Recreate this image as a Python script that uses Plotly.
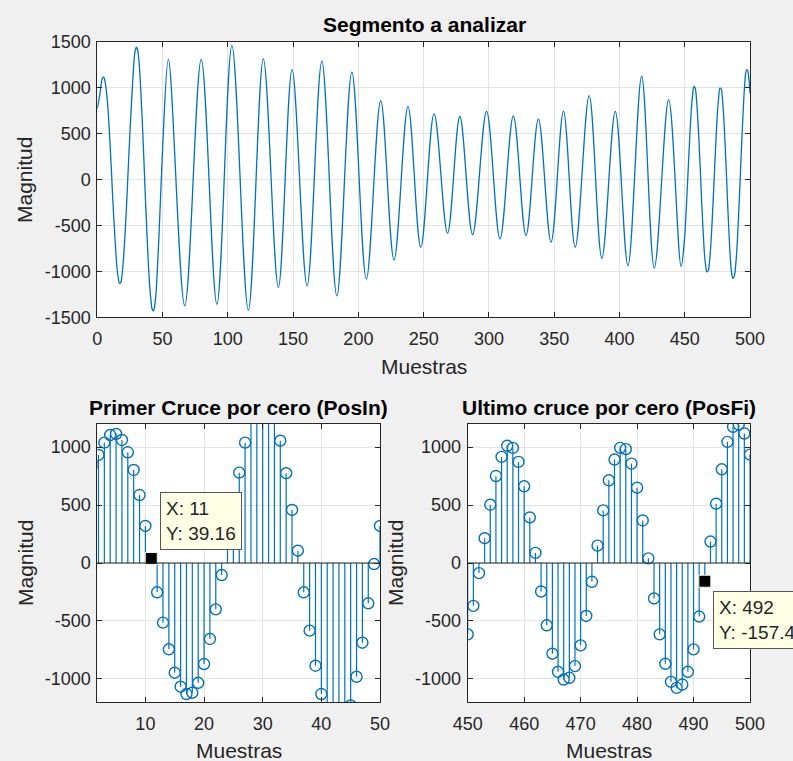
import plotly.graph_objects as go

W, H = 793, 761
BLUE = "#0072BD"
AX = "#262626"
GRID = "#e3e3e3"
FONT = "Liberation Sans, Arial, sans-serif"

# ---------------- data ----------------
# samples 0..50 (start of segment)
ini_x = list(range(0, 51))
ini_y = [770, 850, 933, 1039, 1105, 1114, 1062, 956, 803, 587,
         320, 39.16, -253, -515, -745, -947, -1068, -1131, -1120, -1034,
         -872, -656, -400, -104, 215, 515, 780, 1039, 1265, 1400,
         1440, 1400, 1275, 1056, 775, 458, 106, -253, -584, -887,
         -1131, -1300, -1410, -1430, -1370, -1230, -982, -688, -348, -9,
         320]

# peaks / troughs read between samples 51 and 449
mid_x = [54.5, 67, 79.6, 91.6, 103.1, 115.7, 127.2, 138.7, 149.2, 160.7,
         172, 183.5, 195, 206.1, 217.1, 227.3, 238, 247.8, 258, 268.3,
         277.7, 287.5, 298.2, 308.5, 318.7, 328.4, 337.9, 347.6, 357.1, 366.1,
         376.8, 386.5, 396.8, 406.5, 417, 426.7, 437.7, 447.2]
mid_y = [1307, -1376, 1307, -1358, 1460, -1424, 1314, -1175, 1197, -1157,
         1288, -1267, 1168, -1084, 858, -876, 796, -737, 715, -584,
         686, -599, 741, -646, 693, -610, 657, -683, 741, -737,
         912, -858, 741, -938, 1124, -964, 869, -949]

# samples 450..500 (end of segment)
fin_x = list(range(450, 501))
fin_y = [-616, -370, -87, 214, 503, 751, 916, 1012, 994, 873,
         662, 393, 87, -246, -538, -783, -939, -1006, -991, -890,
         -711, -457, -162, 150, 454, 714, 893, 994, 983, 858,
         650, 367, 40, -306, -616, -870, -1026, -1078, -1049, -939,
         -746, -462, -157.4, 185, 512, 809, 1046, 1176, 1195, 1118,
         936]

pos_in = 11
pos_fi = 492

top_xticks = list(range(0, 501, 50))
top_yticks = [-1500, -1000, -500, 0, 500, 1000, 1500]
bl_xticks = [10, 20, 30, 40, 50]
br_xticks = [450, 460, 470, 480, 490, 500]
bot_yticks = [-1000, -500, 0, 500, 1000]

# ---------------- figure ----------------
fig = go.Figure()

seg_x = ini_x + mid_x + fin_x
seg_y = ini_y + mid_y + fin_y
fig.add_trace(go.Scatter(x=seg_x, y=seg_y, mode="lines",
                         line=dict(color=BLUE, width=1.3, shape="spline", smoothing=1.0),
                         xaxis="x", yaxis="y", hoverinfo="skip"))


def stems(xs, ys, xa, ya):
    lx, ly = [], []
    for a, b in zip(xs, ys):
        lx += [a, a, None]
        ly += [0, b, None]
    fig.add_trace(go.Scatter(x=lx, y=ly, mode="lines", line=dict(color=BLUE, width=1.2),
                             xaxis=xa, yaxis=ya, hoverinfo="skip"))
    fig.add_trace(go.Scatter(x=xs, y=ys, mode="markers",
                             marker=dict(symbol="circle-open", size=11, color=BLUE,
                                         line=dict(width=1.4, color=BLUE)),
                             xaxis=xa, yaxis=ya, hoverinfo="skip"))


stems(ini_x[1:], ini_y[1:], "x2", "y2")
stems(fin_x, fin_y, "x3", "y3")

# data tip markers
fig.add_trace(go.Scatter(x=[pos_in], y=[ini_y[ini_x.index(pos_in)]], mode="markers",
                         marker=dict(symbol="square", size=12, color="black",
                                     line=dict(color="#fffbe0", width=1)),
                         xaxis="x2", yaxis="y2", hoverinfo="skip"))
fig.add_trace(go.Scatter(x=[pos_fi], y=[fin_y[fin_x.index(pos_fi)]], mode="markers",
                         marker=dict(symbol="square", size=12, color="black",
                                     line=dict(color="#fffbe0", width=1)),
                         xaxis="x3", yaxis="y3", hoverinfo="skip"))


def px(x):
    return x / W


def py(y):
    return 1 - y / H


def lab(v):
    return str(v)  # plain hyphen-minus as in the original


def axis(domain, rng, ticks, anchor):
    return dict(domain=domain, range=rng, tickvals=ticks, ticktext=[lab(t) for t in ticks],
                anchor=anchor, automargin=False,
                showline=True, linecolor=AX, linewidth=1, mirror="ticks",
                ticks="inside", ticklen=5, tickcolor=AX, tickwidth=1,
                showgrid=True, gridcolor=GRID, gridwidth=1, zeroline=False,
                tickfont=dict(family=FONT, size=18, color=AX), fixedrange=True)


top_xd = [px(97.3), px(750)]
top_yd = [py(317.3), py(41.7)]
bl_xd = [px(97.3), px(380)]
br_xd = [px(467.7), px(750)]
bot_yd = [py(702), py(424)]

fig.update_layout(
    width=W, height=H, margin=dict(l=0, r=0, t=0, b=0, autoexpand=False),
    paper_bgcolor="#f0f0f0", plot_bgcolor="white", showlegend=False,
    font=dict(family=FONT, color=AX),
    xaxis=dict(axis(top_xd, [0, 500], top_xticks, "y"), ticklabelstandoff=5),
    yaxis=dict(axis(top_yd, [-1500, 1500], top_yticks, "x"), ticklabelstandoff=2),
    xaxis2=dict(axis(bl_xd, [1.8, 50], bl_xticks, "y2"), ticklabelstandoff=5),
    yaxis2=dict(axis(bot_yd, [-1200, 1200], bot_yticks, "x2"), ticklabelstandoff=2),
    xaxis3=dict(axis(br_xd, [450, 500], br_xticks, "y3"), ticklabelstandoff=5),
    yaxis3=dict(axis(bot_yd, [-1200, 1200], bot_yticks, "x3"), ticklabelstandoff=2),
)

# stem baselines
for xr, yr in (("x2 domain", "y2"), ("x3 domain", "y3")):
    fig.add_shape(type="line", xref=xr, yref=yr, x0=0, x1=1, y0=0, y1=0,
                  line=dict(color=AX, width=1.2), layer="above")

ann = []


def text(t, x, y, size, angle=0):
    ann.append(dict(text=t, x=px(x), y=py(y), xref="paper", yref="paper",
                    xanchor="center", yanchor="middle", showarrow=False, textangle=angle,
                    font=dict(family=FONT, size=size, color="black" if "<b>" in t else AX)))


text("<b>Segmento a analizar</b>", 424.3, 24, 21)
text("<b>Primer Cruce por cero (PosIn)</b>", 238.6, 407, 21)
text("<b>Ultimo cruce por cero (PosFi)</b>", 608.8, 407, 21)
text("Muestras", 423.7, 366, 21)
text("Muestras", 238.6, 750, 21)
text("Muestras", 608.8, 750, 21)
text("Magnitud", 25, 180, 21, -90)
text("Magnitud", 25, 563, 21, -90)
text("Magnitud", 395, 563, 21, -90)

# data tips
ann.append(dict(text="X: 11<br>Y: 39.16", x=pos_in, y=ini_y[ini_x.index(pos_in)],
                xref="x2", yref="y2", xanchor="left", yanchor="bottom", align="left",
                xshift=9, yshift=8, showarrow=False, bgcolor="#ffffe6", bordercolor="#555555",
                borderwidth=1, borderpad=5, font=dict(family=FONT, size=19, color=AX)))
ann.append(dict(text="X: 492<br>Y: -157.4", x=pos_fi, y=fin_y[fin_x.index(pos_fi)],
                xref="x3", yref="y3", xanchor="left", yanchor="top", align="left",
                xshift=8, yshift=-10, showarrow=False, bgcolor="#ffffe6", bordercolor="#555555",
                borderwidth=1, borderpad=5, font=dict(family=FONT, size=19, color=AX)))

fig.update_layout(annotations=ann)
fig.write_html("out.html")
